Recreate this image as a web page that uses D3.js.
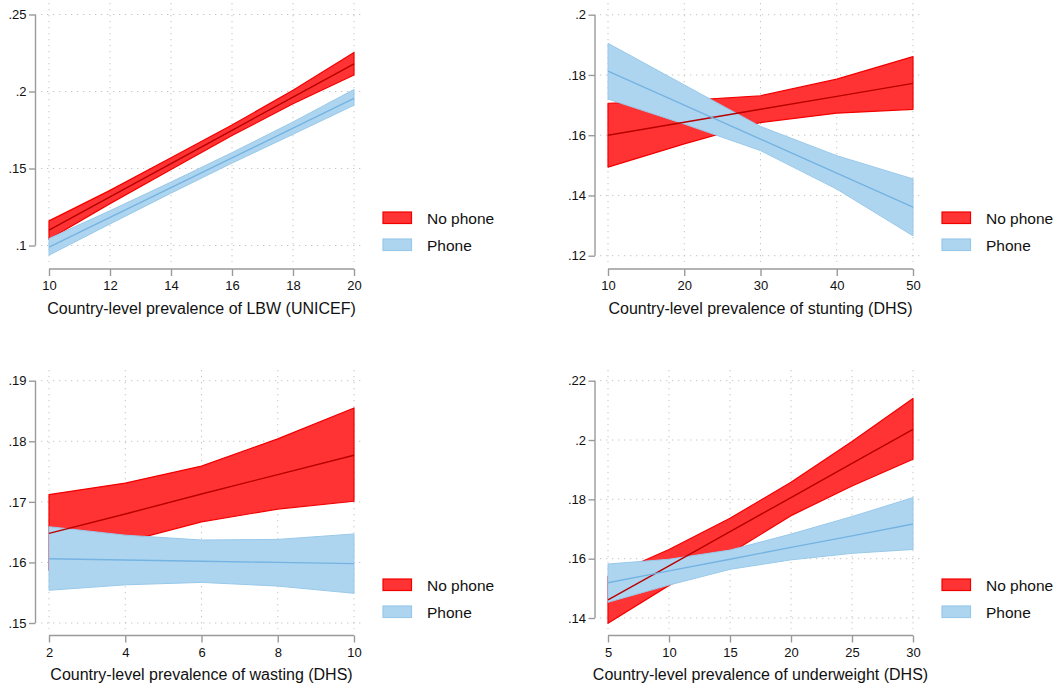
<!DOCTYPE html>
<html>
<head>
<meta charset="utf-8">
<script src="https://cdn.jsdelivr.net/npm/d3@7"></script>
<style>
  body { margin: 0; background: #fff; }
  svg { display: block; font-family: "Liberation Sans", Arial, Helvetica, sans-serif; }
</style>
</head>
<body>
<div id="chart"></div>
<script>
// legend labels
const groups = ["No phone", "Phone"];

// LBW (UNICEF)
const lbwX = [10, 12, 14, 16, 18, 20];
const lbwNoPhone = [0.1100, 0.1316, 0.1532, 0.1748, 0.1964, 0.2180];
const lbwNoPhoneHi = [0.1160, 0.1358, 0.1570, 0.1782, 0.2008, 0.2253];
const lbwNoPhoneLo = [0.1040, 0.1272, 0.1494, 0.1714, 0.1920, 0.2107];
const lbwPhone = [0.0990, 0.1183, 0.1376, 0.1569, 0.1762, 0.1955];
const lbwPhoneHi = [0.1045, 0.1226, 0.1412, 0.1603, 0.1802, 0.2013];
const lbwPhoneLo = [0.0937, 0.1140, 0.1340, 0.1535, 0.1722, 0.1911];
const lbwXTicks = [10, 12, 14, 16, 18, 20];
const lbwYTicks = [0.1, 0.15, 0.2, 0.25];
const lbwYLabels = [".1", ".15", ".2", ".25"];

// stunting (DHS)
const stuntX = [10, 20, 30, 40, 50];
const stuntNoPhone = [0.1600, 0.1643, 0.1686, 0.1729, 0.1772];
const stuntNoPhoneHi = [0.1706, 0.1715, 0.1731, 0.1786, 0.1861];
const stuntNoPhoneLo = [0.1494, 0.1571, 0.1642, 0.1673, 0.1686];
const stuntPhone = [0.1813, 0.1700, 0.1587, 0.1474, 0.1361];
const stuntPhoneHi = [0.1905, 0.1767, 0.1629, 0.1532, 0.1455];
const stuntPhoneLo = [0.1720, 0.1637, 0.1549, 0.1421, 0.1266];
const stuntXTicks = [10, 20, 30, 40, 50];
const stuntYTicks = [0.12, 0.14, 0.16, 0.18, 0.2];
const stuntYLabels = [".12", ".14", ".16", ".18", ".2"];

// wasting (DHS)
const wastX = [2, 4, 6, 8, 10];
const wastNoPhone = [0.1648, 0.1680, 0.1713, 0.1745, 0.1777];
const wastNoPhoneHi = [0.1712, 0.1731, 0.1759, 0.1804, 0.1855];
const wastNoPhoneLo = [0.1587, 0.1634, 0.1667, 0.1688, 0.1701];
const wastPhone = [0.1606, 0.1604, 0.1602, 0.1600, 0.1598];
const wastPhoneHi = [0.1659, 0.1645, 0.1637, 0.1638, 0.1647];
const wastPhoneLo = [0.1554, 0.1563, 0.1567, 0.1561, 0.1549];
const wastXTicks = [2, 4, 6, 8, 10];
const wastYTicks = [0.15, 0.16, 0.17, 0.18, 0.19];
const wastYLabels = [".15", ".16", ".17", ".18", ".19"];

// underweight (DHS)
const underX = [5, 10, 15, 20, 25, 30];
const underNoPhone = [0.1461, 0.1576, 0.1691, 0.1806, 0.1921, 0.2036];
const underNoPhoneHi = [0.1540, 0.1631, 0.1736, 0.1858, 0.1995, 0.2140];
const underNoPhoneLo = [0.1382, 0.1510, 0.1618, 0.1745, 0.1845, 0.1935];
const underPhone = [0.1519, 0.1559, 0.1598, 0.1638, 0.1677, 0.1717];
const underPhoneHi = [0.1582, 0.1598, 0.1629, 0.1683, 0.1742, 0.1806];
const underPhoneLo = [0.1453, 0.1511, 0.1564, 0.1596, 0.1618, 0.1631];
const underXTicks = [5, 10, 15, 20, 25, 30];
const underYTicks = [0.14, 0.16, 0.18, 0.2, 0.22];
const underYLabels = [".14", ".16", ".18", ".2", ".22"];

const panels = [
  {
    title: "Country-level prevalence of LBW (UNICEF)",
    x: lbwX, noPhone: lbwNoPhone, noPhoneHi: lbwNoPhoneHi, noPhoneLo: lbwNoPhoneLo,
    phone: lbwPhone, phoneHi: lbwPhoneHi, phoneLo: lbwPhoneLo,
    xTicks: lbwXTicks, yTicks: lbwYTicks, yLabels: lbwYLabels,
    left: 49, right: 354, top: 14.5, bottom: 245.5, yAxisX: 35.5, xAxisY: 269,
    gridL: 41, gridR: 363, gridT: 3, gridB: 262, legX: 383, legY: 212
  },
  {
    title: "Country-level prevalence of stunting (DHS)",
    x: stuntX, noPhone: stuntNoPhone, noPhoneHi: stuntNoPhoneHi, noPhoneLo: stuntNoPhoneLo,
    phone: stuntPhone, phoneHi: stuntPhoneHi, phoneLo: stuntPhoneLo,
    xTicks: stuntXTicks, yTicks: stuntYTicks, yLabels: stuntYLabels,
    left: 608, right: 913, top: 14.7, bottom: 255.7, yAxisX: 595, xAxisY: 269,
    gridL: 600, gridR: 922, gridT: 3, gridB: 262, legX: 942, legY: 212
  },
  {
    title: "Country-level prevalence of wasting (DHS)",
    x: wastX, noPhone: wastNoPhone, noPhoneHi: wastNoPhoneHi, noPhoneLo: wastNoPhoneLo,
    phone: wastPhone, phoneHi: wastPhoneHi, phoneLo: wastPhoneLo,
    xTicks: wastXTicks, yTicks: wastYTicks, yLabels: wastYLabels,
    left: 49, right: 354, top: 380.7, bottom: 623, yAxisX: 35.5, xAxisY: 635.5,
    gridL: 41, gridR: 363, gridT: 370, gridB: 629, legX: 383, legY: 579
  },
  {
    title: "Country-level prevalence of underweight (DHS)",
    x: underX, noPhone: underNoPhone, noPhoneHi: underNoPhoneHi, noPhoneLo: underNoPhoneLo,
    phone: underPhone, phoneHi: underPhoneHi, phoneLo: underPhoneLo,
    xTicks: underXTicks, yTicks: underYTicks, yLabels: underYLabels,
    left: 608, right: 913, top: 380.7, bottom: 618, yAxisX: 595, xAxisY: 635.5,
    gridL: 600, gridR: 922, gridT: 370, gridB: 629, legX: 942, legY: 579
  }
];

const colors = {
  redFill: "#ff3333", redEdge: "#f20000", redLine: "#b80000",
  blueFill: "#aed5ef", blueEdge: "#98c9ea", blueLine: "#74b3e2"
};
const axisColor = "#9a9a9a";
const gridColor = "#c4c4c4";

const width = 1060, height = 689;
const svg = d3.select("#chart").append("svg")
  .attr("width", width)
  .attr("height", height);

panels.forEach(p => {
  const g = svg.append("g");
  const x = d3.scaleLinear()
    .domain(d3.extent(p.xTicks))
    .range([p.left, p.right]);
  const y = d3.scaleLinear()
    .domain(d3.extent(p.yTicks))
    .range([p.bottom, p.top]);

  // dotted grid
  g.selectAll(".hgrid").data(p.yTicks).enter().append("line")
    .attr("x1", p.gridL).attr("x2", p.gridR)
    .attr("y1", d => y(d)).attr("y2", d => y(d))
    .attr("stroke", gridColor).attr("stroke-width", 1)
    .attr("stroke-dasharray", "1.3 4.7");
  g.selectAll(".vgrid").data(p.xTicks).enter().append("line")
    .attr("x1", d => x(d)).attr("x2", d => x(d))
    .attr("y1", p.gridT).attr("y2", p.gridB)
    .attr("stroke", gridColor).attr("stroke-width", 1)
    .attr("stroke-dasharray", "1.3 4.7");

  // bands
  const rows = p.x.map((xv, i) => ({
    x: xv,
    nm: p.noPhone[i], nh: p.noPhoneHi[i], nl: p.noPhoneLo[i],
    pm: p.phone[i], ph: p.phoneHi[i], pl: p.phoneLo[i]
  }));
  const band = (hi, lo) => d3.area()
    .x(d => x(d.x)).y0(d => y(d[lo])).y1(d => y(d[hi]));
  const line = key => d3.line().x(d => x(d.x)).y(d => y(d[key]));

  g.append("path").datum(rows)
    .attr("d", band("nh", "nl"))
    .attr("fill", colors.redFill)
    .attr("stroke", colors.redEdge).attr("stroke-width", 1.2)
    .attr("stroke-linejoin", "round");
  g.append("path").datum(rows)
    .attr("d", band("ph", "pl"))
    .attr("fill", colors.blueFill)
    .attr("stroke", colors.blueEdge).attr("stroke-width", 1)
    .attr("stroke-linejoin", "round");
  g.append("path").datum(rows)
    .attr("d", line("nm"))
    .attr("fill", "none").attr("stroke", colors.redLine).attr("stroke-width", 1.4);
  g.append("path").datum(rows)
    .attr("d", line("pm"))
    .attr("fill", "none").attr("stroke", colors.blueLine).attr("stroke-width", 1.4);

  // y axis
  const yAxis = g.append("g")
    .attr("transform", `translate(${p.yAxisX},0)`)
    .call(d3.axisLeft(y).tickValues(p.yTicks)
      .tickFormat((d, i) => p.yLabels[i]).tickSize(6.5).tickPadding(2.5));
  // x axis
  const xAxis = g.append("g")
    .attr("transform", `translate(0,${p.xAxisY})`)
    .call(d3.axisBottom(x).tickValues(p.xTicks).tickSize(7).tickPadding(5));

  [yAxis, xAxis].forEach(a => {
    a.select(".domain").remove();
    a.selectAll(".tick line").attr("stroke", axisColor).attr("stroke-width", 1.4);
    a.selectAll(".tick text")
      .attr("fill", "#111")
      .style("font-size", "13px")
      .style("font-family", "'Liberation Sans', Arial, sans-serif");
  });
  g.append("line")
    .attr("x1", p.yAxisX).attr("x2", p.yAxisX)
    .attr("y1", y(d3.max(p.yTicks))).attr("y2", y(d3.min(p.yTicks)))
    .attr("stroke", axisColor).attr("stroke-width", 1.4);
  g.append("line")
    .attr("x1", x(d3.min(p.xTicks))).attr("x2", x(d3.max(p.xTicks)))
    .attr("y1", p.xAxisY).attr("y2", p.xAxisY)
    .attr("stroke", axisColor).attr("stroke-width", 1.4);

  // x title
  g.append("text")
    .attr("x", (p.left + p.right) / 2)
    .attr("y", p.xAxisY + 44.5)
    .attr("text-anchor", "middle")
    .style("font-size", "16px")
    .attr("fill", "#111")
    .text(p.title);

  // legend
  const leg = g.append("g").attr("transform", `translate(${p.legX},${p.legY})`);
  const legFill = [colors.redFill, colors.blueFill];
  const legEdge = [colors.redEdge, colors.blueEdge];
  groups.forEach((name, i) => {
    leg.append("rect")
      .attr("x", 0).attr("y", i * 27)
      .attr("width", 28.5).attr("height", 11.5)
      .attr("fill", legFill[i]).attr("stroke", legEdge[i]).attr("stroke-width", 1.2);
    leg.append("text")
      .attr("x", 44).attr("y", i * 27 + 11.5)
      .style("font-size", "15.5px")
      .attr("fill", "#111")
      .text(name);
  });
});
</script>
</body>
</html>
